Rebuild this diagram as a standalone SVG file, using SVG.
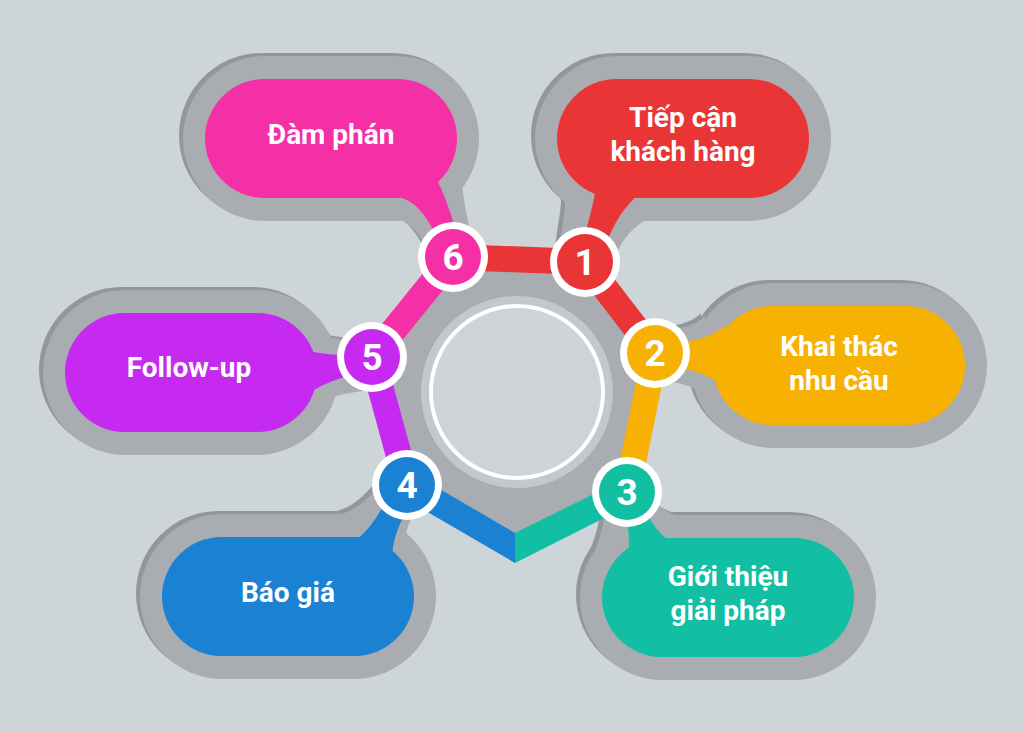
<svg xmlns="http://www.w3.org/2000/svg" xmlns:xlink="http://www.w3.org/1999/xlink" width="1024" height="731" viewBox="0 0 1024 731">
<style>
.bg{fill:#ced5d8}
.outer{fill:#a9adb2}
.rim{fill:#93979c}
.lbl{font-family:Roboto,"Noto Sans","Liberation Sans",sans-serif;font-weight:700;font-size:28px;fill:#ffffff;text-anchor:middle}
.num{font-family:Roboto,"Noto Sans","Liberation Sans",sans-serif;font-weight:700;font-size:37px;fill:#ffffff;text-anchor:middle}
.ring{fill:#ffffff}
.seg{fill:none;stroke-width:26;stroke-linecap:butt}
</style>
<defs>
<g id="o1"><rect x="535" y="56" width="296" height="165" rx="82.5"/><path d="M565,195 C566,215 560,232 558,262 L614,262 C620,240 635,222 660,214 Z"/></g>
<g id="o2"><rect x="691" y="283" width="296" height="165" rx="82.5"/><path d="M655,330 C680,330 695,326 705,316 L705,397 C695,386 680,382 655,380 Z"/></g>
<g id="o3"><rect x="580" y="515" width="296" height="165" rx="82.5"/><path d="M605,492 L650,492 C655,505 665,513 685,518 L592,560 C596,545 606,530 605,492 Z"/></g>
<g id="o4"><rect x="140" y="514" width="296" height="165" rx="82.5"/><path d="M385,478 L425,495 C412,515 402,530 405,560 L330,516 C350,514 365,505 385,478 Z"/></g>
<g id="o5"><rect x="43" y="290" width="296" height="165" rx="82.5"/><path d="M372,340 L372,390 C350,392 330,396 310,405 L310,330 C330,340 350,342 372,340 Z"/></g>
<g id="o6"><rect x="183" y="56" width="296" height="165" rx="82.5"/><path d="M385,215 C405,218 420,230 430,257 L478,257 C470,235 465,210 462,185 Z"/></g>
</defs>
<rect class="bg" x="0" y="0" width="1024" height="731"/>

<g id="hub">
<polygon fill="#a9adb2" points="585,262 655,353 627,492 515,548 407,485 372,357 453,257"/>
<circle cx="517" cy="392" r="96" fill="#c3c8cc"/>
<circle cx="517" cy="392" r="86" fill="#cdd3d6" stroke="#ffffff" stroke-width="4"/>
</g>

<g id="node1">
<use xlink:href="#o1" class="rim" transform="translate(-4,-3)"/>
<use xlink:href="#o1" class="outer"/>
<rect x="557" y="79" width="252" height="119" rx="59.5" fill="#e93535"/>
<path d="M596,188 L644,190 C626,204 612,222 600,262 L578,262 C585,232 592,212 596,188 Z" fill="#e93535"/>
<text class="lbl" x="683" y="127">Tiếp cận</text>
<text class="lbl" x="683" y="161">khách hàng</text>
</g>
<g id="node2">
<use xlink:href="#o2" class="rim" transform="translate(-4,-3)"/>
<use xlink:href="#o2" class="outer"/>
<rect x="713" y="306" width="252" height="119" rx="59.5" fill="#f6b102"/>
<path d="M655,342 C690,344 705,340 725,326 L725,387 C705,372 690,368 655,366 Z" fill="#f6b102"/>
<text class="lbl" x="839" y="356">Khai thác</text>
<text class="lbl" x="839" y="390">nhu cầu</text>
</g>
<g id="node3">
<use xlink:href="#o3" class="rim" transform="translate(-4,-3)"/>
<use xlink:href="#o3" class="outer"/>
<rect x="602" y="538" width="252" height="119" rx="59.5" fill="#13bfa3"/>
<path d="M617,492 L640,492 C645,515 655,532 675,545 L628,560 C630,540 630,520 617,492 Z" fill="#13bfa3"/>
<text class="lbl" x="728" y="586">Giới thiệu</text>
<text class="lbl" x="728" y="620">giải pháp</text>
</g>
<g id="node4">
<use xlink:href="#o4" class="rim" transform="translate(-4,-3)"/>
<use xlink:href="#o4" class="outer"/>
<rect x="162" y="537" width="252" height="119" rx="59.5" fill="#1b82d3"/>
<path d="M396,482 L420,490 C408,510 395,525 392,555 L345,545 C360,540 372,530 396,482 Z" fill="#1b82d3"/>
<text class="lbl" x="288" y="602">Báo giá</text>
</g>
<g id="node5">
<use xlink:href="#o5" class="rim" transform="translate(-4,-3)"/>
<use xlink:href="#o5" class="outer"/>
<rect x="65" y="313" width="252" height="119" rx="59.5" fill="#c62af0"/>
<path d="M372,349 L372,370 C350,374 330,380 305,395 L305,350 C330,356 350,357 372,349 Z" fill="#c62af0"/>
<text class="lbl" x="189" y="377">Follow-up</text>
</g>
<g id="node6">
<use xlink:href="#o6" class="rim" transform="translate(-4,-3)"/>
<use xlink:href="#o6" class="outer"/>
<rect x="205" y="79" width="252" height="119" rx="59.5" fill="#f52fa6"/>
<path d="M395,196 C415,200 430,215 444,257 L464,257 C455,230 450,205 436,178 Z" fill="#f52fa6"/>
<text class="lbl" x="331" y="144">Đàm phán</text>
</g>

<g id="connectors">
<line class="seg" x1="453" y1="257" x2="585" y2="262" stroke="#e93535"/>
<line class="seg" x1="585" y1="262" x2="655" y2="353" stroke="#e93535"/>
<line class="seg" x1="655" y1="353" x2="627" y2="492" stroke="#f6b102"/>
<polygon points="515,533 515,563 632.8,503.6 621.2,480.4" fill="#13bfa3"/>
<polygon points="413.6,473.8 515,533 515,563 400.4,496.2" fill="#1b82d3"/>
<line class="seg" x1="407" y1="485" x2="372" y2="357" stroke="#c62af0"/>
<line class="seg" x1="372" y1="357" x2="453" y2="257" stroke="#f52fa6"/>
</g>

<g id="badge1"><circle class="ring" cx="585" cy="262" r="35"/><circle cx="585" cy="262" r="28" fill="#e93535"/><text class="num" x="585" y="275">1</text></g>
<g id="badge2"><circle class="ring" cx="655" cy="353" r="35"/><circle cx="655" cy="353" r="28" fill="#f6b102"/><text class="num" x="655" y="366">2</text></g>
<g id="badge3"><circle class="ring" cx="627" cy="492" r="35"/><circle cx="627" cy="492" r="28" fill="#13bfa3"/><text class="num" x="627" y="505">3</text></g>
<g id="badge4"><circle class="ring" cx="407" cy="485" r="35"/><circle cx="407" cy="485" r="28" fill="#1b82d3"/><text class="num" x="407" y="498">4</text></g>
<g id="badge5"><circle class="ring" cx="372" cy="357" r="35"/><circle cx="372" cy="357" r="28" fill="#c62af0"/><text class="num" x="372" y="370">5</text></g>
<g id="badge6"><circle class="ring" cx="453" cy="257" r="35"/><circle cx="453" cy="257" r="28" fill="#f52fa6"/><text class="num" x="453" y="270">6</text></g>
</svg>
